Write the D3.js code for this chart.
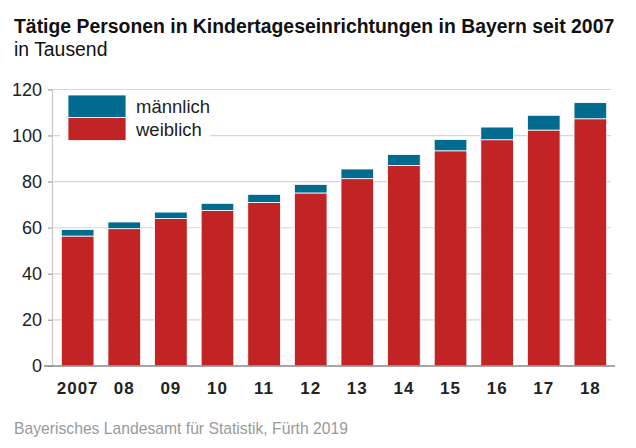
<!DOCTYPE html>
<html>
<head>
<meta charset="utf-8">
<script src="https://cdn.jsdelivr.net/npm/d3@7"></script>
<style>
  body { margin: 0; background: #fff; }
  svg { font-family: "Liberation Sans", Arial, sans-serif; }
</style>
</head>
<body>
<svg width="636" height="448"></svg>
<script>
// Daten (in Tausend)
const jahre = ["2007", "08", "09", "10", "11", "12", "13", "14", "15", "16", "17", "18"];
const weiblich = [56.4, 59.6, 64.0, 67.5, 71.0, 75.1, 81.3, 87.0, 93.4, 98.2, 102.4, 107.3];
const maennlich = [2.8, 2.9, 2.8, 3.1, 3.5, 3.7, 4.2, 4.8, 4.9, 5.5, 6.4, 7.0];
const yTicks = [0, 20, 40, 60, 80, 100, 120];

const farbeW = "#c22324";
const farbeM = "#006a8f";

const svg = d3.select("svg");

// Skalen
const x = d3.scaleBand().domain(jahre).range([52, 616]).paddingInner(0.3).paddingOuter(0.2);
const y = d3.scaleLinear().domain([0, 120]).range([366, 89.5]);

// Titel
svg.append("text")
  .attr("x", 14).attr("y", 32.7)
  .attr("font-size", 19.4).attr("font-weight", "bold").attr("fill", "#111")
  .text("Tätige Personen in Kindertageseinrichtungen in Bayern seit 2007");
svg.append("text")
  .attr("x", 14).attr("y", 55.7)
  .attr("font-size", 19.4).attr("fill", "#111")
  .text("in Tausend");

// Gitterlinien
svg.selectAll(".grid")
  .data(yTicks.filter(d => d > 0))
  .enter().append("line")
  .attr("x1", 48).attr("x2", 611)
  .attr("y1", d => y(d)).attr("y2", d => y(d))
  .attr("stroke", "#d6d6d6").attr("stroke-width", 1.2);

// Y-Achse
const yAxis = svg.append("g")
  .attr("transform", "translate(52,0)")
  .call(d3.axisLeft(y).tickValues(yTicks).tickSize(4).tickPadding(6));
yAxis.select(".domain").attr("stroke", "#c8c8c8").attr("stroke-width", 1.2);
yAxis.selectAll(".tick line").attr("stroke", "#aaa");
yAxis.selectAll("text").attr("font-size", 18).attr("fill", "#222")
  .attr("font-family", "Liberation Sans, Arial, sans-serif");

// Balken
const balken = svg.selectAll(".bar")
  .data(jahre)
  .enter().append("g");

balken.append("rect")
  .attr("x", d => x(d)).attr("width", x.bandwidth())
  .attr("y", (d, i) => y(weiblich[i]))
  .attr("height", (d, i) => y(0) - y(weiblich[i]))
  .attr("fill", farbeW).attr("stroke", "#fff").attr("stroke-width", 0.8);

balken.append("rect")
  .attr("x", d => x(d)).attr("width", x.bandwidth())
  .attr("y", (d, i) => y(weiblich[i] + maennlich[i]))
  .attr("height", (d, i) => y(weiblich[i]) - y(weiblich[i] + maennlich[i]))
  .attr("fill", farbeM).attr("stroke", "#fff").attr("stroke-width", 0.8);

// Grundlinie
svg.append("line")
  .attr("x1", 44).attr("x2", 615)
  .attr("y1", y(0)).attr("y2", y(0))
  .attr("stroke", "#888").attr("stroke-width", 1.5);

// X-Achse Beschriftung
svg.selectAll(".xlabel")
  .data(jahre)
  .enter().append("text")
  .attr("x", d => x(d) + x.bandwidth() / 2)
  .attr("y", 394)
  .attr("text-anchor", "middle")
  .attr("font-size", 17).attr("font-weight", "bold").attr("fill", "#222")
  .attr("letter-spacing", 1)
  .text(d => d);

// Legende
svg.append("rect")
  .attr("x", 60).attr("y", 92).attr("width", 150).attr("height", 54)
  .attr("fill", "#fff");
svg.append("rect")
  .attr("x", 68).attr("y", 95).attr("width", 58).attr("height", 22.5)
  .attr("fill", farbeM).attr("stroke", "#fff").attr("stroke-width", 0.8);
svg.append("rect")
  .attr("x", 68).attr("y", 117.5).attr("width", 58).attr("height", 23)
  .attr("fill", farbeW).attr("stroke", "#fff").attr("stroke-width", 0.8);
svg.append("text")
  .attr("x", 136).attr("y", 113).attr("font-size", 18.5).attr("fill", "#222")
  .text("männlich");
svg.append("text")
  .attr("x", 136).attr("y", 136).attr("font-size", 18.5).attr("fill", "#222")
  .text("weiblich");

// Quelle
svg.append("text")
  .attr("x", 14).attr("y", 434)
  .attr("font-size", 15.7).attr("fill", "#9a9a9a")
  .text("Bayerisches Landesamt für Statistik, Fürth 2019");
</script>
</body>
</html>
